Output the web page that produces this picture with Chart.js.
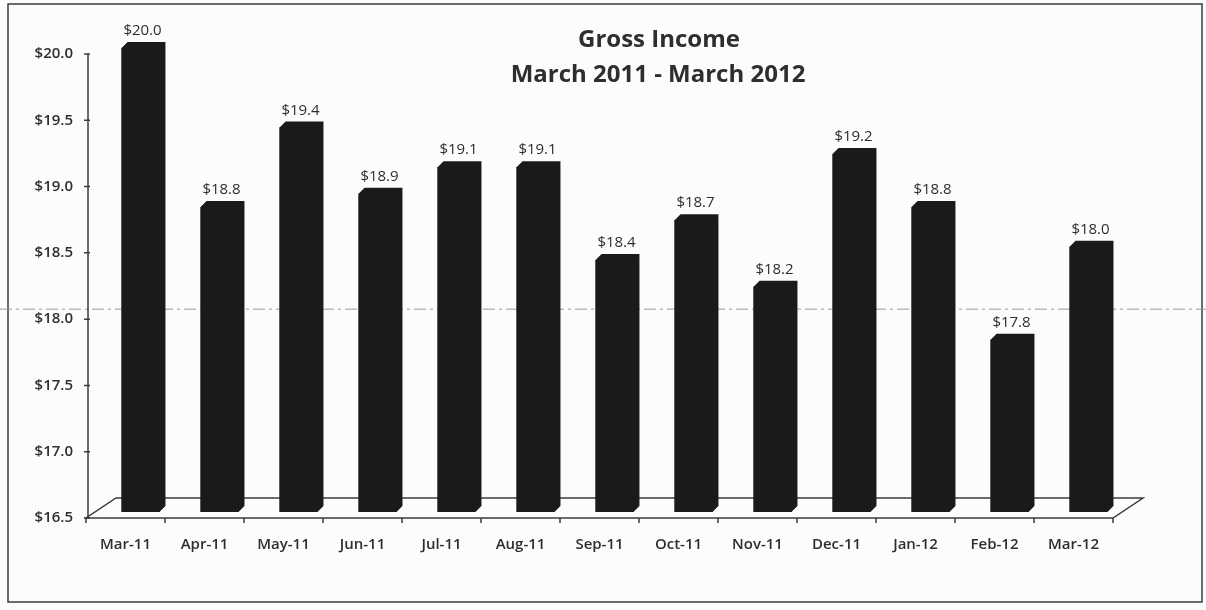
<!DOCTYPE html>
<html>
<head>
<meta charset="utf-8">
<title>Gross Income</title>
<script src="https://cdn.jsdelivr.net/npm/chart.js@4.4.1/dist/chart.umd.min.js"></script>
<style>
    html, body { margin: 0; padding: 0; background: #fcfcfc; }
    #incomeChart { display: block; }
</style>
</head>
<body>
<canvas id="incomeChart" width="1206" height="610"></canvas>
<script>
// Data
const months = ['Mar-11', 'Apr-11', 'May-11', 'Jun-11', 'Jul-11', 'Aug-11', 'Sep-11',
    'Oct-11', 'Nov-11', 'Dec-11', 'Jan-12', 'Feb-12', 'Mar-12'];
const income = [20.0, 18.8, 19.4, 18.9, 19.1, 19.1, 18.4, 18.7, 18.2, 19.2, 18.8, 17.8, 18.5];
// labels as printed over the bars (last bar is printed "$18.0" in the original)
const incomeLabels = ['$20.0', '$18.8', '$19.4', '$18.9', '$19.1', '$19.1', '$18.4',
    '$18.7', '$18.2', '$19.2', '$18.8', '$17.8', '$18.0'];
const yTicks = [16.5, 17.0, 17.5, 18.0, 18.5, 19.0, 19.5, 20.0];
const titleLines = ['Gross Income', 'March 2011 - March 2012'];

const BAR_COLOR = '#1b1a1b';
const TEXT_COLOR = '#2e2e2e';
const FONT = '"Open Sans", "Liberation Sans", sans-serif';

// fake 3D: offsets of the front wall, back wall and bar depth from the bar plane
const FRONT = { dx: -15, dy: 6 };
const BACK = { dx: 15, dy: -14 };
const DEPTH = { dx: 6, dy: -6 };

const scenePlugin = {
    id: 'scene',
    beforeDraw(chart) {
        const ctx = chart.ctx;
        ctx.save();
        ctx.fillStyle = '#fcfcfc';
        ctx.fillRect(0, 0, chart.width, chart.height);
        // outer frame
        ctx.strokeStyle = '#3a3a3a';
        ctx.lineWidth = 1.5;
        ctx.strokeRect(8, 4, chart.width - 12, chart.height - 12);
        ctx.restore();
    },
    beforeDatasetsDraw(chart) {
        const ctx = chart.ctx;
        const area = chart.chartArea;
        const x = chart.scales.x;
        const y = chart.scales.y;
        const base = y.getPixelForValue(y.min);

        ctx.save();
        // faint scan fold line
        const foldY = y.getPixelForValue(18.03);
        ctx.strokeStyle = '#9a9a9a';
        ctx.lineWidth = 1;
        ctx.setLineDash([12, 4, 3, 4]);
        ctx.beginPath();
        ctx.moveTo(0, foldY);
        ctx.lineTo(chart.width, foldY);
        ctx.stroke();
        ctx.setLineDash([]);

        // floor
        ctx.strokeStyle = '#3c3c3c';
        ctx.lineWidth = 1.5;
        ctx.beginPath();
        ctx.moveTo(area.left + FRONT.dx, base + FRONT.dy);
        ctx.lineTo(area.right + FRONT.dx, base + FRONT.dy);
        ctx.lineTo(area.right + BACK.dx, base + BACK.dy);
        ctx.lineTo(area.left + BACK.dx, base + BACK.dy);
        ctx.closePath();
        ctx.stroke();

        // category tick marks on the front edge
        const step = x.getPixelForValue(1) - x.getPixelForValue(0);
        ctx.beginPath();
        for (let i = 0; i <= months.length; i++) {
            const bx = x.getPixelForValue(i) - step / 2 + FRONT.dx;
            ctx.moveTo(bx, base + FRONT.dy);
            ctx.lineTo(bx, base + FRONT.dy + 5);
        }
        ctx.stroke();

        // value axis on the front wall
        const axisX = area.left + FRONT.dx + 2;
        ctx.beginPath();
        ctx.moveTo(axisX, y.getPixelForValue(y.max) + FRONT.dy);
        ctx.lineTo(axisX, base + FRONT.dy);
        yTicks.forEach(v => {
            const ty = y.getPixelForValue(v) + FRONT.dy;
            ctx.moveTo(axisX - 4, ty);
            ctx.lineTo(axisX + 2, ty);
        });
        ctx.stroke();
        ctx.restore();
    },
    afterDatasetsDraw(chart) {
        const ctx = chart.ctx;
        const y = chart.scales.y;
        const base = y.getPixelForValue(y.min);
        const meta = chart.getDatasetMeta(0);
        ctx.save();
        meta.data.forEach((bar, i) => {
            const p = bar.getProps(['x', 'y', 'width'], true);
            const left = p.x - p.width / 2;
            const right = p.x + p.width / 2;

            // whole bar silhouette: front, top and side faces
            ctx.fillStyle = BAR_COLOR;
            ctx.beginPath();
            ctx.moveTo(left, p.y);
            ctx.lineTo(left + DEPTH.dx, p.y + DEPTH.dy);
            ctx.lineTo(right + DEPTH.dx, p.y + DEPTH.dy);
            ctx.lineTo(right + DEPTH.dx, base + DEPTH.dy);
            ctx.lineTo(right, base);
            ctx.lineTo(left, base);
            ctx.closePath();
            ctx.fill();

            // value label
            ctx.fillStyle = TEXT_COLOR;
            ctx.font = '15px ' + FONT;
            ctx.textAlign = 'center';
            ctx.textBaseline = 'alphabetic';
            ctx.fillText(incomeLabels[i], p.x + 2, p.y - 13);
        });
        ctx.restore();
    },
    afterDraw(chart) {
        const ctx = chart.ctx;
        ctx.save();
        ctx.fillStyle = TEXT_COLOR;
        ctx.font = 'bold 24px ' + FONT;
        ctx.textAlign = 'center';
        ctx.textBaseline = 'middle';
        ctx.fillText(titleLines[0], 659, 40);
        ctx.fillText(titleLines[1], 658, 75);
        ctx.restore();
    }
};

const incomeChart = new Chart(document.getElementById('incomeChart'), {
    type: 'bar',
    data: {
        labels: months,
        datasets: [{
            label: 'Gross Income',
            data: income,
            backgroundColor: BAR_COLOR,
            borderWidth: 0,
            categoryPercentage: 1,
            barPercentage: 0.48
        }]
    },
    options: {
        responsive: false,
        animation: false,
        layout: {
            padding: { left: 0, right: 78, top: 48, bottom: 0 }
        },
        plugins: {
            legend: { display: false },
            tooltip: { enabled: false },
            title: { display: false }
        },
        scales: {
            x: {
                offset: true,
                grid: { display: false, drawTicks: false },
                border: { display: false },
                ticks: {
                    color: TEXT_COLOR,
                    font: { family: FONT, size: 15, weight: '600' },
                    padding: 24,
                    labelOffset: -15,
                    maxRotation: 0,
                    autoSkip: false
                },
                afterFit(scale) {
                    scale.height = 98;
                }
            },
            y: {
                min: 16.5,
                max: 20.0,
                grid: { display: false, drawTicks: false },
                border: { display: false },
                afterBuildTicks(scale) {
                    scale.ticks = yTicks.map(v => ({ value: v }));
                },
                ticks: {
                    color: TEXT_COLOR,
                    font: { family: FONT, size: 15, weight: '600' },
                    padding: 28,
                    labelOffset: 6,
                    callback: function (value) {
                        return '$' + Number(value).toFixed(1);
                    }
                },
                afterFit(scale) {
                    scale.width = 101;
                }
            }
        }
    },
    plugins: [scenePlugin]
});
</script>
</body>
</html>
